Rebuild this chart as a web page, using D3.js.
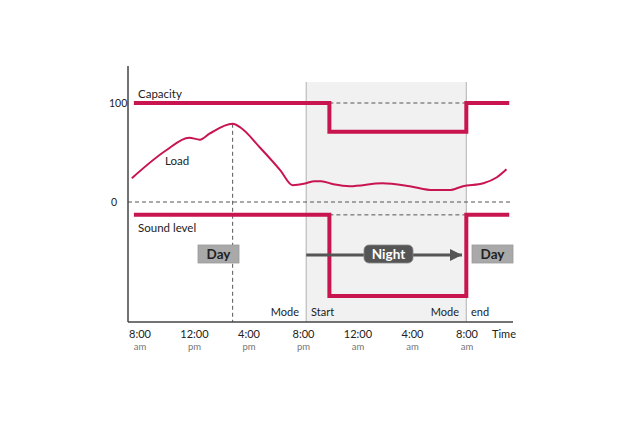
<!DOCTYPE html>
<html>
<head>
<meta charset="utf-8">
<script src="https://cdn.jsdelivr.net/npm/d3@7"></script>
<style>
  body { margin: 0; background: #fff; }
  text { font-family: "Lato", "Open Sans", sans-serif; fill: #222; }
</style>
</head>
<body>
<div class="graph_wrapper"></div>
<script>
// hours after 8:00 am
var tickHours = [0, 4, 8, 12, 16, 20, 24];
var tickTimes = ['8:00', '12:00', '4:00', '8:00', '12:00', '4:00', '8:00'];
var tickMeridiem = ['am', 'pm', 'pm', 'pm', 'am', 'am', 'am'];

var loadHours = [-0.6, 1.9, 3.6, 4.4, 5.1, 6.8, 7.4, 8.8, 10.3, 11.2, 12.2, 12.8, 13.3, 14.2, 15.4, 17.8, 19.8, 21.5, 22.7, 23.7, 25.2, 26.2, 26.9];
var loadValues = [24, 52, 65, 63, 69, 79, 75, 55, 32, 17, 19, 21, 21, 18, 16, 19, 16, 12, 12, 16, 19, 25, 33];

var capacityHours = [-0.45, 13.9, 13.9, 23.95, 23.95, 27.1];
var capacityValues = [100, 100, 71, 71, 100, 100];

var soundHours = [-0.45, 13.9, 13.9, 23.95, 23.95, 27.1];
var soundValues = [-13, -13, -95, -95, -13, -13];

var nightStart = 12.2, nightEnd = 23.95;
var peakHour = 6.8, peakValue = 79;

var width = 640, height = 423;
var color = '#c8154f';

var svg = d3.select('.graph_wrapper').append('svg')
  .attr('width', width).attr('height', height);

var x = d3.scaleLinear().domain([0, 24]).range([140, 467]);
var y = d3.scaleLinear().domain([0, 100]).range([202, 103]);

var yTop = 66, yBottom = 322, xLeft = 128, xRight = 513;

// night shade
svg.append('rect')
  .attr('x', x(nightStart)).attr('y', 82)
  .attr('width', x(nightEnd) - x(nightStart)).attr('height', yBottom - 82)
  .attr('fill', '#f1f1f1');
[nightStart, nightEnd].forEach(function (h) {
  svg.append('line').attr('x1', x(h)).attr('x2', x(h)).attr('y1', 82).attr('y2', yBottom)
    .attr('stroke', '#bdbdbd').attr('stroke-width', 1.2);
});

// dashed guides
function dashed(x1, x2, y1, y2) {
  svg.append('line').attr('x1', x1).attr('x2', x2).attr('y1', y1).attr('y2', y2)
    .attr('stroke', '#555').attr('stroke-width', 1).attr('stroke-dasharray', '4,3');
}
dashed(xLeft, 511, y(0), y(0));
dashed(x(13.9), x(23.95), y(100), y(100));
dashed(x(13.9), x(23.95), y(-13), y(-13));
dashed(x(peakHour), x(peakHour), y(peakValue), yBottom);

// axes
svg.append('line').attr('x1', xLeft).attr('x2', xLeft).attr('y1', yTop).attr('y2', yBottom)
  .attr('stroke', '#444').attr('stroke-width', 1.5);
svg.append('line').attr('x1', xLeft).attr('x2', xRight).attr('y1', yBottom).attr('y2', yBottom)
  .attr('stroke', '#444').attr('stroke-width', 1.5);

// series
var line = d3.line().x(function (d) { return x(d[0]); }).y(function (d) { return y(d[1]); });
var smooth = d3.line().curve(d3.curveMonotoneX)
  .x(function (d) { return x(d[0]); }).y(function (d) { return y(d[1]); });

svg.append('path').attr('d', line(d3.zip(capacityHours, capacityValues)))
  .attr('fill', 'none').attr('stroke', color).attr('stroke-width', 4);
svg.append('path').attr('d', line(d3.zip(soundHours, soundValues)))
  .attr('fill', 'none').attr('stroke', color).attr('stroke-width', 4);
svg.append('path').attr('d', smooth(d3.zip(loadHours, loadValues)))
  .attr('fill', 'none').attr('stroke', color).attr('stroke-width', 2);

// y labels
svg.append('text').attr('x', 109).attr('y', y(100) + 4).attr('font-size', 10.5).text('100');
svg.append('text').attr('x', 111).attr('y', y(0) + 4).attr('font-size', 10.5).text('0');

// series labels
svg.append('text').attr('x', 138).attr('y', 98).attr('font-size', 11.5).text('Capacity');
svg.append('text').attr('x', 165).attr('y', 165).attr('font-size', 11.5).text('Load');
svg.append('text').attr('x', 138).attr('y', 232).attr('font-size', 11.5).text('Sound level');

// night arrow
svg.append('defs').append('marker')
  .attr('id', 'arrow').attr('viewBox', '0 0 10 10').attr('refX', 10).attr('refY', 5)
  .attr('markerWidth', 4).attr('markerHeight', 4).attr('orient', 'auto')
  .append('path').attr('d', 'M0,0L10,5L0,10Z').attr('fill', '#555');
svg.append('line').attr('x1', x(nightStart)).attr('x2', 462).attr('y1', 255).attr('y2', 255)
  .attr('stroke', '#555').attr('stroke-width', 3).attr('marker-end', 'url(#arrow)');

// mode boxes
function dayBox(x0) {
  svg.append('rect').attr('x', x0).attr('y', 245).attr('width', 41).attr('height', 18)
    .attr('fill', '#a9a9a9').attr('stroke', '#999').attr('stroke-width', 0.8);
  svg.append('text').attr('x', x0 + 20.5).attr('y', 259).attr('text-anchor', 'middle')
    .attr('font-size', 13.5).attr('font-weight', 'bold').text('Day');
}
dayBox(198);
dayBox(472);
svg.append('rect').attr('x', 364).attr('y', 245).attr('width', 49).attr('height', 18)
  .attr('rx', 5).attr('fill', '#555').attr('stroke', '#888').attr('stroke-width', 0.8);
svg.append('text').attr('x', 388.5).attr('y', 259).attr('text-anchor', 'middle')
  .attr('font-size', 13.5).attr('font-weight', 'bold').style('fill', '#fff').text('Night');

// mode start / end
[['Mode', 299, 'end'], ['Start', 311, 'start'], ['Mode', 459, 'end'], ['end', 471, 'start']].forEach(function (d) {
  svg.append('text').attr('x', d[1]).attr('y', 316).attr('text-anchor', d[2])
    .attr('font-size', 11).text(d[0]);
});

// x tick labels
var ticks = svg.selectAll('.tick').data(tickHours).enter().append('g')
  .attr('transform', function (d) { return 'translate(' + x(d) + ',0)'; });
ticks.append('text').attr('y', 338).attr('text-anchor', 'middle').attr('font-size', 11)
  .text(function (d, i) { return tickTimes[i]; });
ticks.append('text').attr('y', 350).attr('text-anchor', 'middle').attr('font-size', 9.5)
  .style('fill', '#777').text(function (d, i) { return tickMeridiem[i]; });
svg.append('text').attr('x', 504).attr('y', 338).attr('text-anchor', 'middle')
  .attr('font-size', 11).text('Time');
</script>
</body>
</html>
